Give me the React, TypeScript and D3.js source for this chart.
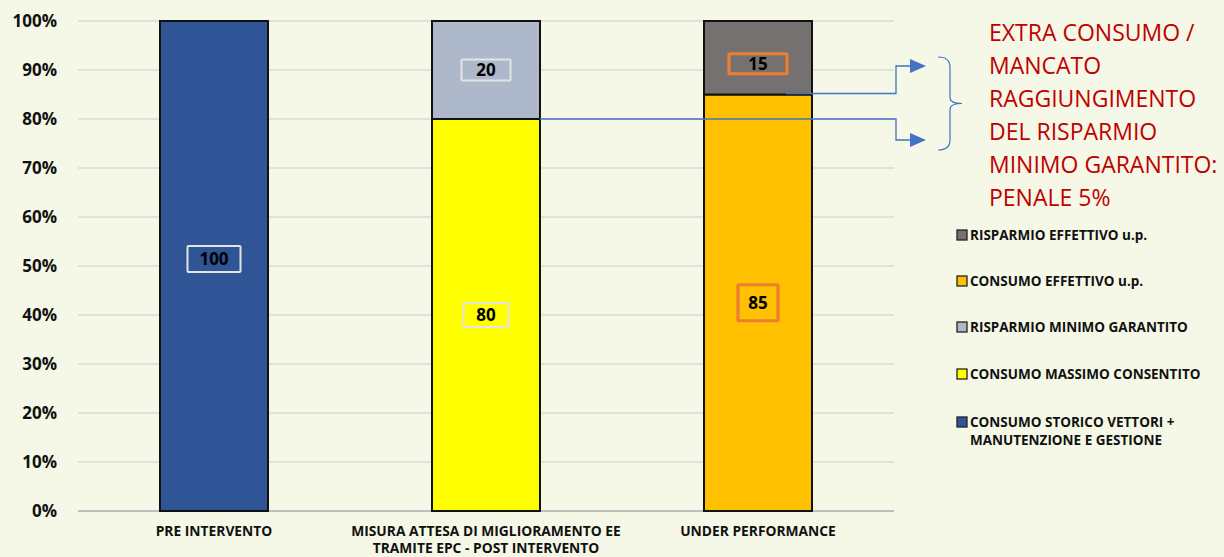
import React from "react";
import * as d3 from "d3";

const categories = [
  ["PRE INTERVENTO"],
  ["MISURA ATTESA DI MIGLIORAMENTO EE", "TRAMITE EPC - POST INTERVENTO"],
  ["UNDER PERFORMANCE"],
];
const catKeys = ["pre", "misura", "under"];

const seriesNames = [
  "CONSUMO STORICO VETTORI + MANUTENZIONE E GESTIONE",
  "CONSUMO MASSIMO CONSENTITO",
  "RISPARMIO MINIMO GARANTITO",
  "CONSUMO EFFETTIVO u.p.",
  "RISPARMIO EFFETTIVO u.p.",
];
const consumoStorico = [100, 0, 0];
const consumoMassimo = [0, 80, 0];
const risparmioMinimo = [0, 20, 0];
const consumoEffettivo = [0, 0, 85];
const risparmioEffettivo = [0, 0, 15];
const seriesValues = [consumoStorico, consumoMassimo, risparmioMinimo, consumoEffettivo, risparmioEffettivo];
const seriesColors = ["#2F5597", "#FFFF00", "#ADB9CA", "#FFC000", "#767171"];
const labelBoxColors = ["#E4E4E4", "#E4E4E4", "#E4E4E4", "#ED7D31", "#ED7D31"];
// label box [width, height, vertical shift] per series
const labelBoxes = [
  [53, 26, -7],
  [45, 24, 0],
  [49, 21, 0],
  [40, 36, 0],
  [58, 20, 6],
];

const yTicks = [0, 10, 20, 30, 40, 50, 60, 70, 80, 90, 100];
const noteLines = [
  "EXTRA CONSUMO /",
  "MANCATO",
  "RAGGIUNGIMENTO",
  "DEL RISPARMIO",
  "MINIMO GARANTITO:",
  "PENALE 5%",
];

const W = 1224;
const H = 557;
const BG = "#F5F8E6";
const FONT = "'Open Sans', sans-serif";

export default function App() {
  const x = d3.scaleBand<string>().domain(catKeys).range([78, 894]).paddingInner(0.603).paddingOuter(0.3015);
  const y = d3.scaleLinear().domain([0, 100]).range([511, 21]);

  const rows = catKeys.map((k, i) => {
    const r: any = { key: k };
    seriesNames.forEach((s, j) => (r[s] = seriesValues[j][i]));
    return r;
  });
  const stacked = d3.stack<any>().keys(seriesNames)(rows);

  const bw = x.bandwidth();
  const x2r = (x("misura") as number) + bw;
  const x3 = x("under") as number;
  const yTop = y(85);
  const yLow = y(80);
  const turnX = 896;
  const tipX = 926;
  const upY = 66;
  const downY = 140;

  // brace
  const bx = 938;
  const bTop = 57;
  const bBot = 150;
  const bMid = (bTop + bBot) / 2;
  const braceP = `M${bx},${bTop} Q${bx + 12},${bTop} ${bx + 12},${bTop + 10} L${bx + 12},${bMid - 6} Q${bx + 12},${bMid} ${bx + 24},${bMid} Q${bx + 12},${bMid} ${bx + 12},${bMid + 6} L${bx + 12},${bBot - 10} Q${bx + 12},${bBot} ${bx},${bBot}`;

  const legendOrder = [4, 3, 2, 1, 0];
  const legendY = [235, 281, 327, 374, 422];

  return (
    <svg width={W} height={H} style={{ position: "absolute", left: 0, top: 0, background: BG }}>
      <rect x={0} y={0} width={W} height={H} fill={BG} />
      {yTicks.map((t) => (
        <g key={t}>
          <line x1={78} x2={894} y1={y(t)} y2={y(t)} stroke={t === 0 ? "#BFBFBF" : "#D9D9D9"} strokeWidth={t === 0 ? 2 : 1.6} />
          <text x={57} y={y(t)} dy="0.36em" textAnchor="end" fontFamily={FONT} fontWeight="bold" fontSize={17} fill="#111">
            {t}%
          </text>
        </g>
      ))}
      {stacked.map((s, si) =>
        s.map((d, ci) => {
          const v = d[1] - d[0];
          if (v <= 0) return null;
          return (
            <rect
              key={`${si}-${ci}`}
              x={x(catKeys[ci])}
              y={y(d[1])}
              width={bw}
              height={y(d[0]) - y(d[1])}
              fill={seriesColors[si]}
              stroke="#111"
              strokeWidth={2}
            />
          );
        })
      )}
      {/* connector arrows */}
      <polyline points={`${x3 + 82},${yTop - 1} ${turnX},${yTop - 1} ${turnX},${upY} ${tipX - 14},${upY}`} fill="none" stroke="#4472C4" strokeWidth={1.3} />
      <polygon points={`${tipX - 16},${upY - 7} ${tipX},${upY} ${tipX - 16},${upY + 7}`} fill="#4472C4" />
      <polyline points={`${x2r},${yLow} ${turnX},${yLow} ${turnX},${downY} ${tipX - 14},${downY}`} fill="none" stroke="#4472C4" strokeWidth={1.3} />
      <polygon points={`${tipX - 16},${downY - 7} ${tipX},${downY} ${tipX - 16},${downY + 7}`} fill="#4472C4" />
      <path d={braceP} fill="none" stroke="#4472C4" strokeWidth={1.2} />
      {/* data labels */}
      {stacked.map((s, si) =>
        s.map((d, ci) => {
          const v = d[1] - d[0];
          if (v <= 0) return null;
          const [bwid, bh, dy] = labelBoxes[si];
          const cx = (x(catKeys[ci]) as number) + bw / 2;
          const cy = (y(d[0]) + y(d[1])) / 2 + dy;
          const orange = si >= 3;
          return (
            <g key={`l${si}-${ci}`}>
              <rect x={cx - bwid / 2} y={cy - bh / 2} width={bwid} height={bh} fill="none" stroke={labelBoxColors[si]} strokeWidth={orange ? 3.2 : 2} rx={1} />
              <text x={cx} y={cy} dy="0.36em" textAnchor="middle" fontFamily={FONT} fontWeight="bold" fontSize={17} fill="#000">
                {String(v)}
              </text>
            </g>
          );
        })
      )}
      {/* x labels */}
      {categories.map((lines, i) => (
        <text key={i} textAnchor="middle" fontFamily={FONT} fontWeight="bold" fontSize={13.8} fill="#111">
          {lines.map((l, j) => (
            <tspan key={j} x={(x(catKeys[i]) as number) + bw / 2} y={536 + j * 17}>
              {l}
            </tspan>
          ))}
        </text>
      ))}
      {/* note */}
      <text fontFamily={FONT} fontSize={23} fill="#C00000">
        {noteLines.map((l, i) => (
          <tspan key={i} x={989} y={41 + i * 33}>
            {l}
          </tspan>
        ))}
      </text>
      {/* legend */}
      {legendOrder.map((si, k) => {
        const ly = legendY[k];
        const name = seriesNames[si];
        const lines = si === 0 ? ["CONSUMO STORICO VETTORI +", "MANUTENZIONE E GESTIONE"] : [name];
        return (
          <g key={si}>
            <rect x={957} y={ly - 5} width={10} height={10} fill={seriesColors[si]} stroke="#222" strokeWidth={1.3} />
            <text fontFamily={FONT} fontWeight="bold" fontSize={13.5} fill="#111">
              {lines.map((l, j) => (
                <tspan key={j} x={970} y={ly + 5 + j * 18}>
                  {l}
                </tspan>
              ))}
            </text>
          </g>
        );
      })}
    </svg>
  );
}
